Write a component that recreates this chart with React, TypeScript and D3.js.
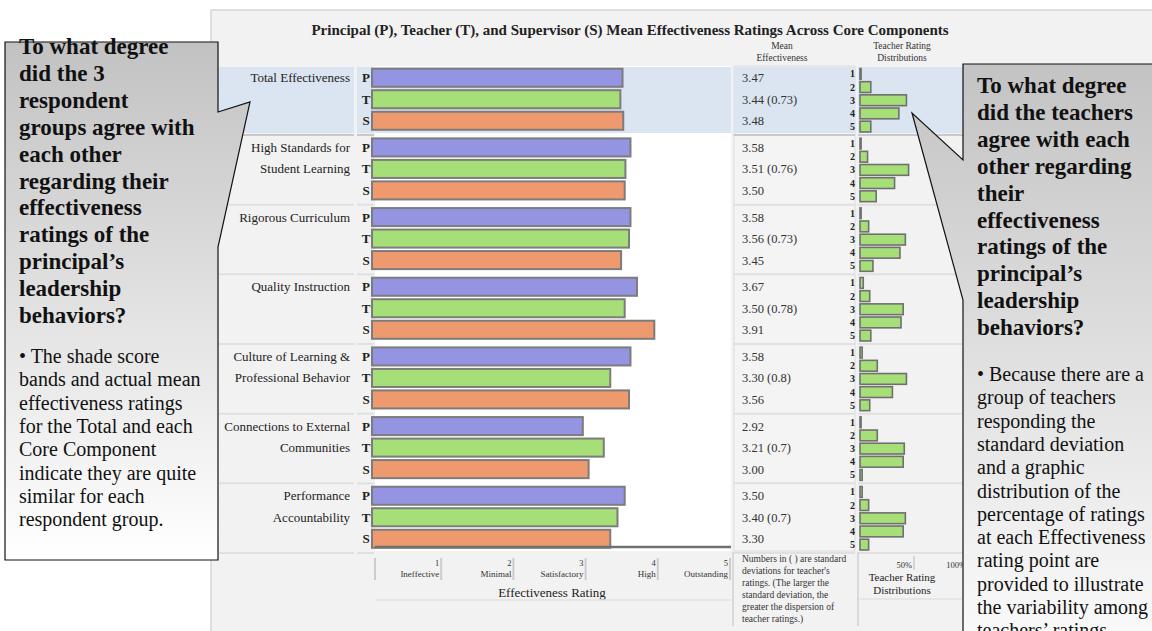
import React from "react";
import * as d3 from "d3";

// Core components (row labels, possibly split on two lines)
const components: string[][] = [
  ["Total Effectiveness"],
  ["High Standards for", "Student Learning"],
  ["Rigorous Curriculum"],
  ["Quality Instruction"],
  ["Culture of Learning &", "Professional Behavior"],
  ["Connections to External", "Communities"],
  ["Performance", "Accountability"],
];

const respondents = ["P", "T", "S"];

const principalMeans = [3.47, 3.58, 3.58, 3.67, 3.58, 2.92, 3.5];
const teacherMeans = [3.44, 3.51, 3.56, 3.5, 3.3, 3.21, 3.4];
const teacherSD = ["0.73", "0.76", "0.73", "0.78", "0.8", "0.7", "0.7"];
const supervisorMeans = [3.48, 3.5, 3.45, 3.91, 3.56, 3.0, 3.3];

// Percent of teacher ratings at each rating point (1..5)
const ratingPoints = [1, 2, 3, 4, 5];
const teacherDistributions = [
  [1, 10, 43, 36, 10],
  [1, 7, 45, 32, 15],
  [1, 8, 42, 37, 12],
  [3, 9, 40, 38, 10],
  [2, 16, 43, 30, 9],
  [1, 16, 41, 40, 2],
  [2, 8, 42, 40, 8],
];

const ratingTicks = [1, 2, 3, 4, 5];
const ratingNames = ["Ineffective", "Minimal", "Satisfactory", "High", "Outstanding"];
const distTicks = [50, 100];

const leftQuestion = [
  "To what degree",
  "did the 3",
  "respondent",
  "groups agree with",
  "each other",
  "regarding their",
  "effectiveness",
  "ratings of the",
  "principal\u2019s",
  "leadership",
  "behaviors?",
];
const leftNote = [
  "\u2022 The shade score",
  "bands and actual mean",
  "effectiveness ratings",
  "for the Total and each",
  "Core Component",
  "indicate they are quite",
  "similar for each",
  "respondent group.",
];
const rightQuestion = [
  "To what degree",
  "did the teachers",
  "agree with each",
  "other regarding",
  "their",
  "effectiveness",
  "ratings of the",
  "principal\u2019s",
  "leadership",
  "behaviors?",
];
const rightNote = [
  "\u2022 Because there are a",
  "group of teachers",
  "responding the",
  "standard deviation",
  "and a graphic",
  "distribution of the",
  "percentage of ratings",
  "at each Effectiveness",
  "rating point are",
  "provided to illustrate",
  "the variability among",
  "teachers\u2019 ratings.",
];
const sdNote = [
  "Numbers in ( ) are standard",
  "deviations for teacher's",
  "ratings. (The larger the",
  "standard deviation, the",
  "greater the dispersion of",
  "teacher ratings.)",
];

const SERIF = "'Liberation Serif', 'Times New Roman', serif";
const COLORS: Record<string, string> = { P: "#9494e2", T: "#a6de78", S: "#ee9a6e" };

const W = 1152;
const H = 631;

// column extents
const col = {
  label: [213, 354],
  letter: [357, 374],
  bars: [375, 731],
  value: [734, 855],
  dist: [858, 990],
};

export default function App() {
  const x = d3.scaleLinear().domain([0, 5]).range([372, 733]);
  const gy = d3
    .scaleBand<number>()
    .domain(d3.range(components.length))
    .range([67, 67 + components.length * 69.67]);
  const ry = d3
    .scaleBand<string>()
    .domain(respondents)
    .range([0, 64.5])
    .paddingInner(0.16)
    .paddingOuter(0.08);
  const dy = d3
    .scaleBand<number>()
    .domain(ratingPoints)
    .range([1, 65.5])
    .paddingInner(0.18)
    .paddingOuter(0.04);
  const dx = d3.scaleLinear().domain([0, 100]).range([860, 968]);

  const means: Record<string, number[]> = {
    P: principalMeans,
    T: teacherMeans,
    S: supervisorMeans,
  };

  const lastBottom = (gy(components.length - 1) as number) + 66;

  return (
    <svg
      width={W}
      height={H}
      style={{ position: "absolute", left: 0, top: 0, background: "#ffffff" }}
      fontFamily={SERIF}
    >
      <defs>
        <linearGradient id="leftFill" x1="0" y1="0" x2="0" y2="1">
          <stop offset="0" stopColor="#c2c2c2" />
          <stop offset="0.55" stopColor="#e4e4e4" />
          <stop offset="1" stopColor="#ffffff" />
        </linearGradient>
        <linearGradient id="rightFill" x1="0" y1="0" x2="0" y2="1">
          <stop offset="0" stopColor="#c3c3c3" />
          <stop offset="0.55" stopColor="#e2e2e2" />
          <stop offset="1" stopColor="#fafafa" />
        </linearGradient>
      </defs>

      {/* chart panel */}
      <rect x={211} y={10} width={W} height={H} fill="#f2f2f2" stroke="#d6d6d6" strokeWidth={1.5} />

      <text x={630} y={35} textAnchor="middle" fontSize={15} fontWeight="bold" fill="#222">
        Principal (P), Teacher (T), and Supervisor (S) Mean Effectiveness Ratings Across Core Components
      </text>
      <text x={782} y={49} textAnchor="middle" fontSize={9.5} fill="#333">Mean</text>
      <text x={782} y={61} textAnchor="middle" fontSize={9.5} fill="#333">Effectiveness</text>
      <text x={902} y={49} textAnchor="middle" fontSize={9.5} fill="#333">Teacher Rating</text>
      <text x={902} y={61} textAnchor="middle" fontSize={9.5} fill="#333">Distributions</text>

      {/* column backgrounds */}
      <rect x={col.bars[0]} y={66} width={col.bars[1] - col.bars[0]} height={lastBottom - 66} fill="#ffffff" />
      <rect
        x={col.value[0]}
        y={66}
        width={col.value[1] - col.value[0]}
        height={lastBottom - 66}
        fill="#f4f4f4"
        stroke="#dcdcdc"
      />

      {/* component groups */}
      {components.map((lines, i) => {
        const top = gy(i) as number;
        const highlight = i === 0;
        return (
          <g key={i}>
            {highlight && (
              <g fill="#dbe5f1">
                <rect x={col.label[0]} y={top} width={col.label[1] - col.label[0]} height={66} />
                <rect x={col.letter[0]} y={top} width={col.letter[1] - col.letter[0]} height={66} />
                <rect x={col.bars[0]} y={top} width={col.bars[1] - col.bars[0]} height={66} />
                <rect x={col.value[0]} y={top} width={col.value[1] - col.value[0]} height={66} />
                <rect x={col.dist[0]} y={top} width={col.dist[1] - col.dist[0]} height={66} />
              </g>
            )}
            {/* separators under each group */}
            <g stroke={highlight ? "#c9c9c9" : "#e0e0e0"} strokeWidth={2}>
              <line x1={col.label[0] + 6} x2={col.label[1]} y1={top + 68} y2={top + 68} />
              <line x1={col.letter[0]} x2={col.letter[1]} y1={top + 68} y2={top + 68} />
              <line x1={col.value[0]} x2={col.value[1]} y1={top + 68} y2={top + 68} />
              <line x1={col.dist[0]} x2={col.dist[1]} y1={top + 68} y2={top + 68} />
            </g>

            {lines.map((ln, k) => (
              <text
                key={k}
                x={350}
                y={top + (ry("P") as number) + ry.bandwidth() / 2 + 4.5 + k * 21.5}
                textAnchor="end"
                fontSize={13}
                fill="#222"
              >
                {ln}
              </text>
            ))}

            {respondents.map((r) => {
              const yb = top + (ry(r) as number);
              const cy = yb + ry.bandwidth() / 2;
              const v = means[r][i];
              const label = r === "T" ? `${v.toFixed(2)} (${teacherSD[i]})` : v.toFixed(2);
              return (
                <g key={r}>
                  <text x={366} y={cy + 4.5} textAnchor="middle" fontSize={13} fontWeight="bold" fill="#222">
                    {r}
                  </text>
                  <rect
                    x={x(0)}
                    y={yb}
                    width={x(v) - x(0)}
                    height={ry.bandwidth()}
                    fill={COLORS[r]}
                    stroke="#7c7c7c"
                    strokeWidth={2}
                  />
                  <text x={742} y={cy + 4.5} fontSize={12.5} fill="#333">
                    {label}
                  </text>
                </g>
              );
            })}

            {ratingPoints.map((p, k) => {
              const yb = top + (dy(p) as number);
              return (
                <g key={p}>
                  <text
                    x={855}
                    y={yb + dy.bandwidth() / 2 + 3.5}
                    textAnchor="end"
                    fontSize={10}
                    fontWeight="bold"
                    fill="#222"
                  >
                    {p}
                  </text>
                  <rect
                    x={dx(0)}
                    y={yb}
                    width={dx(teacherDistributions[i][k]) - dx(0)}
                    height={dy.bandwidth()}
                    fill={COLORS.T}
                    stroke="#707070"
                    strokeWidth={1.6}
                  />
                </g>
              );
            })}
          </g>
        );
      })}

      {/* base line of bar area */}
      <line x1={col.bars[0]} x2={col.bars[1]} y1={lastBottom - 4} y2={lastBottom - 4} stroke="#707070" strokeWidth={2.5} />

      {/* rating axis */}
      <line x1={375} x2={375} y1={558} y2={580} stroke="#cccccc" strokeWidth={2} />
      {ratingTicks.map((t, k) => (
        <g key={t}>
          <line x1={x(t) - 3} x2={x(t) - 3} y1={558} y2={580} stroke="#cccccc" strokeWidth={2} />
          <text x={x(t) - 5} y={566} textAnchor="end" fontSize={8.5} fill="#333">
            {t}
          </text>
          <text x={x(t) - 5} y={577} textAnchor="end" fontSize={9} fill="#333">
            {ratingNames[k]}
          </text>
        </g>
      ))}
      <text x={552} y={597} textAnchor="middle" fontSize={13} fill="#222">
        Effectiveness Rating
      </text>
      <line x1={375} x2={731} y1={600} y2={600} stroke="#e2e2e2" strokeWidth={1.5} />

      {/* standard deviation note */}
      <line x1={733} x2={733} y1={552} y2={626} stroke="#d0d0d0" strokeWidth={1.5} />
      <line x1={858} x2={858} y1={552} y2={626} stroke="#d0d0d0" strokeWidth={1.5} />
      {sdNote.map((ln, k) => (
        <text key={k} x={742} y={562 + k * 12} fontSize={9.5} fill="#333">
          {ln}
        </text>
      ))}

      {/* distribution axis */}
      {distTicks.map((t) => (
        <g key={t}>
          <line x1={dx(t)} x2={dx(t)} y1={556} y2={570} stroke="#cccccc" strokeWidth={1.5} />
          <text x={dx(t) - 2} y={568} textAnchor="end" fontSize={8.5} fill="#333">
            {t}%
          </text>
        </g>
      ))}
      <text x={902} y={581} textAnchor="middle" fontSize={11} fill="#222">Teacher Rating</text>
      <text x={902} y={594} textAnchor="middle" fontSize={11} fill="#222">Distributions</text>
      <line x1={860} x2={990} y1={599} y2={599} stroke="#e2e2e2" strokeWidth={1.5} />

      {/* left callout */}
      <path
        d="M5,42 H218 V112 L250,102 L218,247 V560 H5 Z"
        fill="url(#leftFill)"
        stroke="#111"
        strokeWidth={1.2}
      />
      {leftQuestion.map((ln, k) => (
        <text key={k} x={19} y={54 + k * 26.9} fontSize={23} fontWeight="bold" fill="#111">
          {ln}
        </text>
      ))}
      {leftNote.map((ln, k) => (
        <text key={k} x={19} y={363 + k * 23.3} fontSize={20} fill="#111">
          {ln}
        </text>
      ))}

      {/* right callout */}
      <path
        d="M963,64 H1160 V640 H963 V300 L912,113 L963,160 Z"
        fill="url(#rightFill)"
        stroke="#111"
        strokeWidth={1.2}
      />
      {rightQuestion.map((ln, k) => (
        <text key={k} x={977} y={93 + k * 26.9} fontSize={23} fontWeight="bold" fill="#111">
          {ln}
        </text>
      ))}
      {rightNote.map((ln, k) => (
        <text key={k} x={977} y={381 + k * 23.3} fontSize={20} fill="#111">
          {ln}
        </text>
      ))}
    </svg>
  );
}
